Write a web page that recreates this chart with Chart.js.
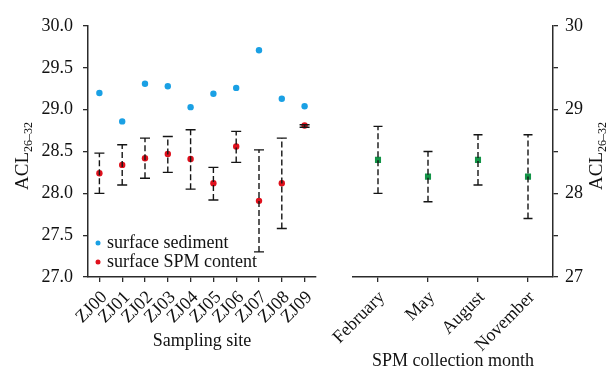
<!DOCTYPE html>
<html lang="en">
<head>
<meta charset="UTF-8">
<title>ACL26-32 by site and month</title>
<script src="https://cdn.jsdelivr.net/npm/chart.js@4"></script>
<style>
  html, body { margin: 0; padding: 0; background: #fff; }
  #wrap { position: relative; width: 607px; height: 372px; }
  #wrap canvas { position: absolute; left: 0; top: 0; }
</style>
</head>
<body>
<div id="wrap">
  <canvas id="siteChart" width="607" height="372"></canvas>
  <canvas id="monthChart" width="607" height="372"></canvas>
</div>
<script>
// values
const sites = ['ZJ00', 'ZJ01', 'ZJ02', 'ZJ03', 'ZJ04', 'ZJ05', 'ZJ06', 'ZJ07', 'ZJ08', 'ZJ09'];
const sediment = [29.20, 28.86, 29.31, 29.28, 29.03, 29.19, 29.26, 29.71, 29.13, 29.04];
const spm = [28.24, 28.34, 28.42, 28.47, 28.41, 28.12, 28.56, 27.91, 28.12, 28.81];
const spmLow = [28.00, 28.10, 28.18, 28.25, 28.05, 27.92, 28.37, 27.30, 27.58, 28.79];
const spmHigh = [28.48, 28.58, 28.66, 28.68, 28.76, 28.31, 28.74, 28.52, 28.66, 28.82];

const months = ['February', 'May', 'August', 'November'];
const monthMean = [28.4, 28.2, 28.4, 28.2];
const monthLow = [28.0, 27.9, 28.1, 27.7];
const monthHigh = [28.8, 28.5, 28.7, 28.7];

const FONT = 'Liberation Serif, Times New Roman, serif';
const AXIS = '#2b2b2b';
Chart.defaults.font.family = FONT;
Chart.defaults.color = '#111';

// dashed error bars with caps
const errorBars = {
  id: 'errorBars',
  afterDatasetsDraw(chart, args, opts) {
    const { ctx, scales: { x, y } } = chart;
    ctx.save();
    ctx.strokeStyle = '#151515';
    ctx.lineWidth = 1.4;
    opts.low.forEach((lo, i) => {
      const px = x.getPixelForValue(i);
      const y1 = y.getPixelForValue(lo);
      const y2 = y.getPixelForValue(opts.high[i]);
      ctx.setLineDash([6, 3]);
      ctx.beginPath();
      ctx.moveTo(px, y1);
      ctx.lineTo(px, y2);
      ctx.stroke();
      ctx.setLineDash([]);
      ctx.beginPath();
      ctx.moveTo(px - opts.cap, y1); ctx.lineTo(px + opts.cap, y1);
      ctx.moveTo(px - opts.cap, y2); ctx.lineTo(px + opts.cap, y2);
      ctx.stroke();
    });
    ctx.restore();
  }
};

// rotated y title with subscript, and the in-plot legend
const extras = {
  id: 'extras',
  afterDraw(chart, args, opts) {
    const ctx = chart.ctx;
    ctx.save();
    ctx.fillStyle = '#111';
    ctx.font = '19px ' + FONT;
    const w1 = ctx.measureText('ACL').width;
    ctx.font = '12px ' + FONT;
    const w2 = ctx.measureText('26\u201332').width;
    ctx.translate(opts.titleX, opts.titleY + (w1 + w2) / 2);
    ctx.rotate(-Math.PI / 2);
    ctx.textBaseline = 'alphabetic';
    ctx.font = '19px ' + FONT;
    ctx.fillText('ACL', 0, 0);
    ctx.font = '12px ' + FONT;
    ctx.fillText('26\u201332', w1, 4);
    ctx.restore();

    if (opts.legend) {
      ctx.save();
      ctx.font = '18px ' + FONT;
      ctx.textBaseline = 'middle';
      opts.legend.forEach((item, i) => {
        const ly = opts.legendY + i * 19;
        ctx.fillStyle = item.color;
        ctx.beginPath();
        ctx.arc(opts.legendX, ly, 2.5, 0, Math.PI * 2);
        ctx.fill();
        ctx.fillStyle = '#111';
        ctx.fillText(item.text, opts.legendX + 9, ly);
      });
      ctx.restore();
    }
  }
};

function xScale(title, titlePad, shift) {
  return {
    offset: true,
    grid: { display: true, drawOnChartArea: false, drawTicks: true, tickLength: 5, color: AXIS, lineWidth: 1.3 },
    border: { display: true, color: AXIS, width: 1.5 },
    ticks: { font: { size: 18 }, color: '#111', minRotation: 45, maxRotation: 45, padding: 5, labelOffset: shift, autoSkip: false },
    title: { display: true, text: title, font: { size: 18 }, color: '#111', padding: { top: 0, bottom: titlePad } },
    afterFit(s) { s.height = 95; s.paddingLeft = 0; s.paddingRight = 0; }
  };
}

new Chart(document.getElementById('siteChart'), {
  type: 'line',
  data: {
    labels: sites,
    datasets: [
      { label: 'surface sediment', data: sediment, showLine: false, pointStyle: 'circle', pointRadius: 3.2,
        backgroundColor: '#1aa0e4', borderColor: '#1aa0e4', borderWidth: 0 },
      { label: 'surface SPM content', data: spm, showLine: false, pointStyle: 'circle', pointRadius: 3.2,
        backgroundColor: '#e0101c', borderColor: '#e0101c', borderWidth: 0 }
    ]
  },
  options: {
    responsive: false,
    animation: false,
    layout: { padding: { left: 0, top: 26, right: 291, bottom: 0 } },
    plugins: {
      legend: { display: false },
      tooltip: { enabled: false },
      errorBars: { low: spmLow, high: spmHigh, cap: 5 },
      extras: {
        titleX: 28, titleY: 156,
        legendX: 98, legendY: 243,
        legend: [{ text: 'surface sediment', color: '#1aa0e4' }, { text: 'surface SPM content', color: '#e0101c' }]
      }
    },
    scales: {
      x: xScale('Sampling site', 20, 5),
      y: {
        min: 27, max: 30,
        grid: { display: true, drawOnChartArea: false, drawTicks: true, tickLength: 5, color: AXIS, lineWidth: 1.3 },
        border: { display: true, color: AXIS, width: 1.5 },
        ticks: {
          stepSize: 0.25, padding: 10, font: { size: 18 }, color: '#111',
          callback: v => Math.abs(v * 2 - Math.round(v * 2)) < 1e-6 ? v.toFixed(1) : ''
        },
        afterFit(s) { s.width = 88; s.paddingTop = 0; s.paddingBottom = 0; }
      }
    }
  },
  plugins: [errorBars, extras]
});

new Chart(document.getElementById('monthChart'), {
  type: 'line',
  data: {
    labels: months,
    datasets: [
      { label: 'SPM', data: monthMean, showLine: false, pointStyle: 'rect', pointRadius: 4.3,
        backgroundColor: '#139447', borderColor: '#139447', borderWidth: 0 }
    ]
  },
  options: {
    responsive: false,
    animation: false,
    layout: { padding: { left: 353, top: 26, right: 0, bottom: 0 } },
    plugins: {
      legend: { display: false },
      tooltip: { enabled: false },
      errorBars: { low: monthLow, high: monthHigh, cap: 4.5 },
      extras: { titleX: 602, titleY: 156 }
    },
    scales: {
      x: xScale('SPM collection month', 0, 4),
      y: {
        position: 'right',
        min: 27, max: 30,
        grid: { display: true, drawOnChartArea: false, drawTicks: true, tickLength: 5, color: AXIS, lineWidth: 1.3 },
        border: { display: true, color: AXIS, width: 1.5 },
        ticks: {
          stepSize: 0.5, padding: 7, font: { size: 18 }, color: '#111',
          callback: v => Number.isInteger(v) ? String(v) : ''
        },
        afterFit(s) { s.width = 54; s.paddingTop = 0; s.paddingBottom = 0; }
      }
    }
  },
  plugins: [errorBars, extras]
});
</script>
</body>
</html>
